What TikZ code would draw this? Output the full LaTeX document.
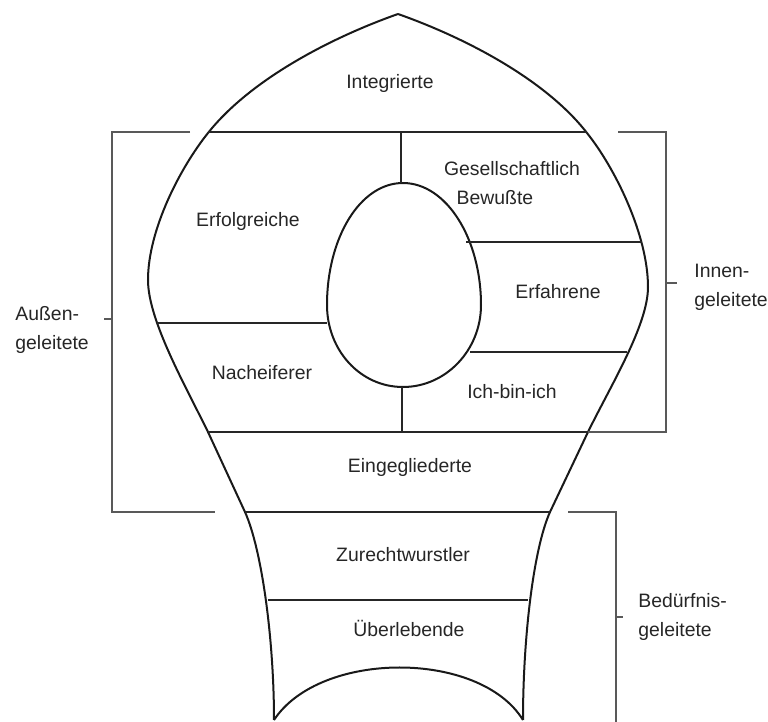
\documentclass[tikz,border=0pt]{standalone}
\usepackage{fontspec}
\setmainfont{Liberation Sans}

\begin{document}
\begin{tikzpicture}[
  x=0.5pt, y=-0.5pt,
  font=\fontsize{9.7}{14.5}\selectfont,
  outline/.style={draw=black!90, line width=1pt},
  divider/.style={draw=black!85, line width=1pt},
  bracket/.style={draw=black!65, line width=1.3pt},
  type/.style={text=black!85, inner sep=0pt},
  group/.style={type, align=left, anchor=west}
]
\useasboundingbox (0,0) rectangle (768,722);

% Outer bulb
\draw[outline] (398,14) .. controls (330,38) and (250,80) .. (208,133)
  .. controls (180,168) and (148,230) .. (148,280)
  .. controls (148,320) and (185,385) .. (208,432) -- (245,512)
  .. controls (262,550) and (274,640) .. (274,720);
\draw[outline] (398,14) .. controls (466,38) and (546,80) .. (587,133)
  .. controls (615,168) and (648,235) .. (648,287)
  .. controls (648,325) and (611,385) .. (588,432) -- (550,512)
  .. controls (533,550) and (523,640) .. (523,720);
\draw[outline] (274,720) .. controls (320,650) and (480,650) .. (523,720);

% Egg in the middle
\draw[outline] (403,183) .. controls (446,183) and (481,238) .. (481,305)
  .. controls (481,350) and (446,387) .. (403,387)
  .. controls (360,387) and (327,350) .. (327,305)
  .. controls (327,238) and (360,183) .. (403,183);

% Dividers
\draw[divider] (208,132) -- (587,132);
\draw[divider] (401,132) -- (401,183);
\draw[divider] (466,242) -- (642,242);
\draw[divider] (157,323) -- (327,323);
\draw[divider] (470,352) -- (627,352);
\draw[divider] (402,387) -- (402,432);
\draw[divider] (208,432) -- (588,432);
\draw[divider] (245,512) -- (550,512);
\draw[divider] (268,600) -- (528,600);

% Brackets
\draw[bracket] (190,132) -- (112,132) -- (112,512) -- (215,512);
\draw[bracket] (104,319) -- (112,319);
\draw[bracket] (618,132) -- (666,132) -- (666,432) -- (588,432);
\draw[bracket] (666,283) -- (677,283);
\draw[bracket] (568,512) -- (616,512) -- (616,722);
\draw[bracket] (616,617) -- (623,617);

% Segment labels
\node[type] (integ) at (390,83) {Integrierte};
\node[type] (erfolg) at (248,221) {Erfolgreiche};
\node[type] (gesell) at (512,169) {Gesellschaftlich};
\node[type] (bewusst) at (495,198) {Bewußte};
\node[type] (erfahr) at (558,292) {Erfahrene};
\node[type] (nachei) at (262,373) {Nacheiferer};
\node[type] (ichbin) at (512,392) {Ich-bin-ich};
\node[type] (eingeg) at (410,467) {Eingegliederte};
\node[type] (zurech) at (403,555) {Zurechtwurstler};
\node[type] (ueberl) at (409,628) {Überlebende};

% Group labels
\node[group] (aussen) at (15,330) {Außen-\\geleitete};
\node[group] (innen) at (694,287) {Innen-\\geleitete};
\node[group] (beduerf) at (638,617) {Bedürfnis-\\geleitete};
\end{tikzpicture}
\end{document}
